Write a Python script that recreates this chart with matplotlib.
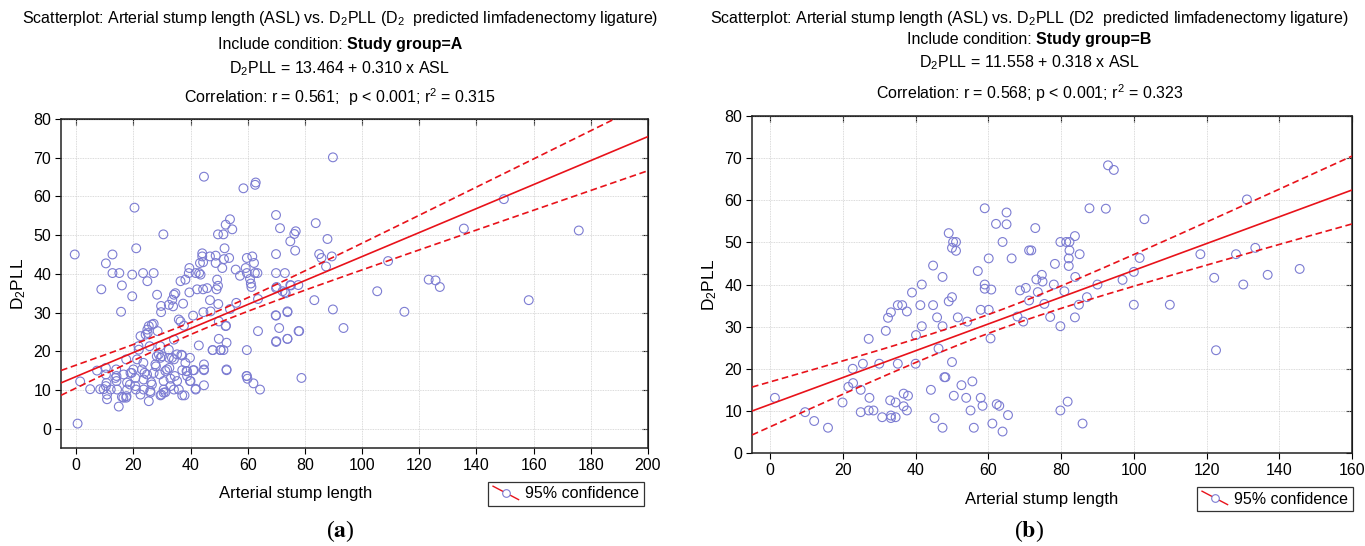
import numpy as np
import matplotlib
matplotlib.use("Agg")
import matplotlib.pyplot as plt
from matplotlib.lines import Line2D
from matplotlib.legend_handler import HandlerBase

plt.rcParams['font.family'] = ['Liberation Sans', 'DejaVu Sans']
plt.rcParams['mathtext.fontset'] = 'custom'
plt.rcParams['mathtext.rm'] = 'Liberation Sans'
plt.rcParams['mathtext.it'] = 'Liberation Sans:italic'
plt.rcParams['mathtext.bf'] = 'Liberation Sans:bold'

# ---------------- data: group A ----------------
asl_a = [-0.5, 0.5, 1.4, 4.9, 7.3, 8.8, 10.4, 12.7, 12.7, 15.1, 16, 15.7, 8.4, 9.6, 10.4, 10.4, 10.4, 10.8, 10.8,
         13.7, 14, 14.3, 14.9, 16, 16.6, 17.5, 17.5, 17.8, 17.8, 19, 19.6, 19.6, 20.4, 21, 20, 20.7, 20.7, 20.9,
         21.3, 21.9, 22.5, 23.4, 24.3, 24.9, 24.9, 25.4, 25.7, 26.5, 27.1, 27.1, 22.5, 23, 23.6, 23.6, 24.8, 25.4,
         26, 26.5, 27.1, 27.7, 28.3, 28.5, 28.9, 29.2, 29.5, 29.5, 29.7, 29.7, 30.5, 30.6, 30.6, 30.6, 31.2, 31.8,
         32.4, 32.4, 32.4, 33, 33, 33.6, 33.9, 34.2, 34.2, 34.2, 34.2, 34.7, 35.3, 35.9, 35.9, 36.5, 36.5, 37.1,
         37.1, 37.1, 37.4, 37.7, 38.2, 38.2, 38.6, 38.8, 39.4, 39.6, 39.6, 39.8, 39.8, 40.9, 41.2, 41.8, 41.8, 42.3,
         42.9, 43, 43.3, 43.5, 44.1, 44.1, 44.4, 44.7, 44.7, 44.7, 44.7, 44.4, 45.8, 46.8, 46.8, 47, 47.7, 48.8,
         48.8, 49.1, 49.3, 49.6, 49.6, 49.7, 49.9, 49.9, 50.5, 51.1, 51.5, 51.5, 51.7, 51.9, 52.3, 52.3, 52.6, 52.6,
         53.5, 53.8, 53.8, 54.6, 55.8, 56, 57.3, 58.5, 59.3, 59.7, 59.7, 59.7, 59.7, 59.9, 60.8, 61.1, 61.3, 61.6,
         62, 62.2, 62.5, 62.6, 62.8, 63.4, 63.6, 63.6, 64.3, 69.9, 69.9, 69.9, 69.9, 69.9, 69.9, 71, 71.3, 73, 72.2,
         73.3, 73.9, 73.9, 74.9, 74.9, 76.3, 76.8, 76.6, 77.7, 78, 78.8, 83.3, 83.8, 85, 85.8, 87.4, 87.9, 89.4,
         89.8, 89.8, 93.5, 105.3, 109.1, 114.8, 123.3, 125.7, 127.2, 135.6, 149.6, 158.3, 175.8,
         10.6, 12.1, 14.1, 14.1, 16.5, 17.6, 18.8, 19.4, 21.8, 23.5, 23.9, 25, 25.9, 26.2, 27.9, 28.2, 29.4, 29.8,
         30, 31.2, 32.6, 33.5, 34.5, 35.3, 36.8, 37.9, 41.8, 44.7, 40.9, 52.6, 59.6, 47.8, 50.5, 70, 73.9, 77.8,
         69.8, 73.9, 52.4, 44.5, 70.1, 73, 75.1, 38.8, 40.0]
d2pll_a = [45, 1.3, 12.2, 10.2, 15, 36, 42.7, 45, 40.2, 40.2, 37, 30.2, 10.2, 10.2, 15.7, 14, 11, 8.8, 7.6,
           13.1, 15.3, 10.1, 5.7, 8.2, 14, 17.9, 8, 10.1, 11.9, 14.4, 39.8, 34.2, 57.1, 46.6, 15.3, 13.1, 11, 10.1,
           17.9, 20.4, 23.9, 40.2, 24.3, 25.6, 38.1, 26.5, 21.3, 26.9, 40.2, 27.1, 8.8, 15.3, 12.7, 10.1, 14, 7.1,
           9.3, 11.4, 14.4, 16.6, 34.6, 25.2, 19.2, 14, 8.6, 18.3, 31.7, 30.1, 50.2, 10.1, 9.3, 12.3, 14.9, 15.3,
           20.4, 18.3, 32, 12.9, 11, 33.3, 31.6, 34.6, 23, 17.9, 10.1, 35, 19.2, 28.2, 10.1, 38.1, 27.7, 8.6,
           15.1, 18.9, 32.3, 26.6, 38.5, 17, 14.9, 13.6, 40.2, 41.5, 35.2, 18.3, 12.3, 29.2, 15.1, 10.1, 40.2, 36,
           21.5, 40.2, 42.8, 39.8, 45.3, 44.5, 43, 65.1, 16.6, 15.1, 11.2, 36, 36.3, 44.5, 33.2, 30.3, 20.3, 44.7,
           42.8, 36, 38.5, 50.2, 36.9, 32.2, 23.2, 27.7, 20.3, 41.5, 20.3, 50.2, 43.8, 46.6, 52.7, 26.5, 22.2, 15.1,
           44.1, 54.1, 30.9, 51.5, 41.1, 32.5, 39.5, 62.1, 41.5, 44.1, 40.2, 20.3, 13.6, 12.9, 38.7, 37.5, 36.6, 44.5,
           11.7, 42.8, 40.2, 63, 63.6, 40.2, 33.5, 25.2, 10.1, 55.2, 45.1, 40.2, 36.3, 29.2, 22.4, 26, 51.8, 40.2, 35.5,
           35, 30.3, 23.2, 37.1, 48.4, 50.3, 51, 46, 37.1, 25.2, 13.1, 33.2, 53.1, 45.1, 44.1, 41.9, 49, 44.5,
           70.1, 30.8, 26, 35.5, 43.3, 30.2, 38.5, 38.3, 36.6, 51.7, 59.3, 33.2, 51.2,
           11.8, 10.1, 13.6, 12.3, 8, 8.4, 11.4, 14.4, 21.3, 17, 14.4, 24.7, 9.7, 12, 16.1, 18.7, 21.3, 8.8,
           18.7, 9.4, 15.7, 18.3, 13.6, 12.3, 19.1, 8.6, 10.3, 15.3, 15.1, 15.3, 13.6, 20.3, 20.3, 22.6, 23.2, 25.2,
           29.3, 30.1, 26.6, 30.1, 36.6, 35.2, 37, 14.8, 12.3]

# ---------------- data: group B ----------------
asl_b = [1.3, 9.6, 12.1, 15.9, 19.9, 21.5, 22.7, 22.8, 24.9, 24.9, 25.5, 27.1, 27.3, 27.1, 28.4, 30.0, 30.8,
         31.8, 32.4, 33.0, 33.2, 33.2, 33.2, 34.5, 34.5, 35.1, 35.1, 36.3, 36.7, 36.7, 37.6, 37.9, 37.6, 39.0,
         40.0, 40.1, 41.3, 41.7, 41.7, 44.2, 44.8, 44.8, 45.2, 45.9, 46.3, 47.4, 47.4, 47.4, 47.9, 48.2, 49.1,
         49.1, 50.0, 50.0, 50.3, 51.1, 51.1, 50.0, 50.5, 51.6, 52.6, 53.9, 54.2, 55.1, 55.6, 56.0, 57.1, 57.9,
         57.9, 58.4, 59.0, 59.0, 59.0, 60.1, 60.1, 60.6, 60.8, 61.1, 62.1, 62.3, 63.0, 63.9, 63.9, 65.0, 65.0,
         65.4, 66.4, 68.7, 68.0, 69.6, 70.3, 71.2, 71.8, 71.2, 72.9, 73.2, 74.7, 74.9, 73.6, 75.4, 77.0, 78.0,
         78.3, 79.8, 81.4, 82.3, 82.3, 82.1, 82.1, 83.8, 85.1, 83.9, 80.9, 79.8, 84.9, 83.8, 87.1, 90.0, 87.8,
         92.3, 92.9, 94.5, 96.9, 100.0, 100.0, 101.6, 102.9, 109.9, 118.3, 122.1, 122.6, 128.1, 130.1, 131.1,
         133.4, 136.8, 145.6, 79.8, 81.8, 85.9]
d2pll_b = [13.1, 9.7, 7.6, 6.0, 12.0, 15.7, 20.0, 16.6, 15.0, 9.7, 21.2, 27.1, 13.1, 10.1, 10.1, 21.2, 8.5,
           29.0, 32.1, 12.5, 33.4, 8.9, 8.3, 12.0, 8.5, 21.2, 35.1, 35.1, 14.1, 11.1, 33.6, 13.6, 10.1, 38.1,
           21.2, 28.0, 35.1, 40.0, 30.1, 15.0, 44.5, 35.1, 8.3, 32.2, 24.8, 6.0, 41.8, 30.1, 18.0, 18.0, 52.2,
           36.0, 37.0, 48.7, 50.1, 50.1, 48.0, 21.6, 13.6, 32.2, 16.1, 13.1, 31.2, 10.1, 17.0, 6.0, 43.2, 34.0,
           13.1, 11.2, 58.1, 40.0, 39.0, 46.2, 34.0, 27.2, 38.8, 7.0, 54.4, 11.6, 11.2, 50.1, 5.1, 57.1, 54.3,
           9.0, 46.2, 38.6, 32.4, 31.2, 39.2, 48.1, 48.1, 36.2, 53.4, 41.2, 42.3, 40.7, 38.2, 35.4, 32.3, 40.0,
           44.9, 50.1, 50.1, 50.1, 48.1, 46.2, 44.4, 51.5, 47.2, 41.8, 38.4, 30.1, 35.2, 32.2, 37.0, 40.0, 58.1,
           58.0, 68.3, 67.2, 41.1, 43.0, 35.2, 46.3, 55.5, 35.2, 47.2, 41.6, 24.4, 47.2, 40.0, 60.2,
           48.7, 42.3, 43.7, 10.1, 12.2, 7.0]

# regression coefficients stated in the chart
coef_a = (13.464, 0.310)
coef_b = (11.558, 0.318)
t_crit_a = 1.968
t_crit_b = 1.977

title1_a = "Scatterplot: Arterial stump length (ASL) vs. D$_2$PLL (D$_2$  predicted limfadenectomy ligature)"
title1_b = "Scatterplot: Arterial stump length (ASL) vs. D$_2$PLL (D2  predicted limfadenectomy ligature)"
cond_label = "Include condition:"
cond_a = "Study group=A"
cond_b = "Study group=B"
eq_a = "D$_2$PLL = 13.464 + 0.310 x ASL"
eq_b = "D$_2$PLL = 11.558 + 0.318 x ASL"
corr_a = "Correlation: r = 0.561;  p < 0.001; r$^2$ = 0.315"
corr_b = "Correlation: r = 0.568; p < 0.001; r$^2$ = 0.323"

PTS = '#7c7cd2'
RED = '#e8121a'
W, H = 1365, 546
TFS = 11.5


class DiagHandler(HandlerBase):
    def create_artists(self, legend, orig, xd, yd, w, h, fontsize, trans):
        ln = Line2D([xd, xd + w], [yd + h * 1.1, yd - h * 0.1], color=RED, lw=1.0, transform=trans)
        mk = Line2D([xd + w / 2], [yd + h / 2], marker='o', ms=5.5, mfc='white', mec=PTS,
                    mew=0.8, ls='none', transform=trans)
        return [ln, mk]


def panel(ax, x, y, coef, tcrit, xlim, ylim, xticks):
    x = np.asarray(x, float)
    y = np.asarray(y, float)
    b0, b1 = coef
    ax.scatter(x, y, s=40, facecolors='none', edgecolors=PTS, linewidths=0.8, zorder=3)
    xs = np.linspace(xlim[0], xlim[1], 300)
    yhat = b0 + b1 * xs
    n = len(x)
    resid = y - (b0 + b1 * x)
    s = np.sqrt(np.sum(resid ** 2) / (n - 2))
    xm = x.mean()
    sxx = np.sum((x - xm) ** 2)
    half = tcrit * s * np.sqrt(1.0 / n + (xs - xm) ** 2 / sxx)
    ax.plot(xs, yhat, color=RED, lw=1.2, zorder=4)
    ax.plot(xs, yhat + half, color=RED, lw=1.2, ls=(0, (4, 2.2)), zorder=4)
    ax.plot(xs, yhat - half, color=RED, lw=1.2, ls=(0, (4, 2.2)), zorder=4)
    ax.set_xlim(*xlim)
    ax.set_ylim(*ylim)
    ax.set_xticks(xticks)
    ax.set_yticks(np.arange(0, 81, 10))
    ax.grid(True, color='#cfcfcf', lw=0.6, ls=(0, (1, 1)))
    ax.set_axisbelow(True)
    for sp in ax.spines.values():
        sp.set_linewidth(1.1)
        sp.set_color('#222222')
    ax.tick_params(direction='out', length=4, width=0.8, labelsize=11.5, pad=3)
    top = ax.secondary_xaxis('top')
    top.set_xticks(xticks)
    top.tick_params(direction='in', length=4, width=0.8, labeltop=False)
    right = ax.secondary_yaxis('right')
    right.set_yticks(np.arange(0, 81, 10))
    right.tick_params(direction='in', length=4, width=0.8, labelright=False)
    return Line2D([], [], color=RED)


def two_part(fig, xc, y, normal, bold, size):
    r = fig.canvas.get_renderer()
    t1 = fig.text(0, y, normal, ha='left', va='center', fontsize=size)
    t2 = fig.text(0, y, bold, ha='left', va='center', fontsize=size, weight='bold')
    w1 = t1.get_window_extent(r).width
    w2 = t2.get_window_extent(r).width
    gap = 0.278 * size * fig.dpi / 72.0
    total = w1 + gap + w2
    x0 = xc * W - total / 2
    t1.set_x(x0 / W)
    t2.set_x((x0 + w1 + gap) / W)


fig = plt.figure(figsize=(13.65, 5.46), dpi=100)
axA = fig.add_axes([0.0447, 0.1795, 0.430, 0.6025])
axB = fig.add_axes([0.5509, 0.1703, 0.4396, 0.6172])

hA = panel(axA, asl_a, d2pll_a, coef_a, t_crit_a, (-5.3, 200), (-5, 80), np.arange(0, 201, 20))
hB = panel(axB, asl_b, d2pll_b, coef_b, t_crit_b, (-5, 160), (0, 80), np.arange(0, 161, 20))

for ax, xlab_x in ((axA, 0.40), (axB, 0.483)):
    ax.set_ylabel("D$_2$PLL", fontsize=12.5, labelpad=4)
    ax.set_xlabel("Arterial stump length", fontsize=12)
    ax.xaxis.set_label_coords(xlab_x, -0.115)

# titles
xa, xb = 0.249, 0.754
ya = [0.967, 0.918, 0.875, 0.822]
yb = [0.967, 0.927, 0.885, 0.830]
fig.text(xa, ya[0], title1_a, ha='center', va='center', fontsize=TFS)
two_part(fig, xa, ya[1], cond_label, cond_a, TFS)
fig.text(xa, ya[2], eq_a, ha='center', va='center', fontsize=TFS)
fig.text(xa, ya[3], corr_a, ha='center', va='center', fontsize=TFS)
fig.text(xb, yb[0], title1_b, ha='center', va='center', fontsize=TFS)
two_part(fig, xb, yb[1], cond_label, cond_b, TFS)
fig.text(xb, yb[2], eq_b, ha='center', va='center', fontsize=TFS)
fig.text(xb, yb[3], corr_b, ha='center', va='center', fontsize=TFS)

# legends
for h, (cx, cy) in ((hA, (566, 494)), (hB, (1275, 499))):
    leg = fig.legend([h], ["95% confidence"], handler_map={Line2D: DiagHandler()},
                     loc='center', bbox_to_anchor=(cx / W, 1 - cy / H), fontsize=11.5,
                     frameon=True, fancybox=False, edgecolor='black', handlelength=1.6,
                     handletextpad=0.4, borderpad=0.3, borderaxespad=0)
    leg.get_frame().set_linewidth(0.9)

# panel letters
fig.text(0.249, 0.027, r"($\mathbf{a}$)", ha='center', va='center', fontsize=17,
         family='Liberation Serif', math_fontfamily='stix')
fig.text(0.754, 0.027, r"($\mathbf{b}$)", ha='center', va='center', fontsize=17,
         family='Liberation Serif', math_fontfamily='stix')

fig.savefig("out.png", dpi=100)
